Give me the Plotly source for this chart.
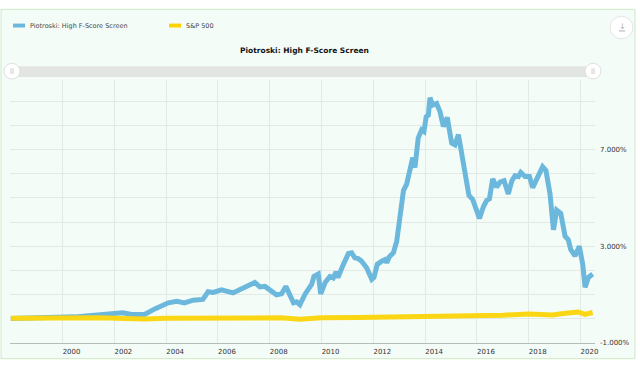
import plotly.graph_objects as go

# ---------------- data ----------------
pio_dates = ["1998-01-01", "1998-07-01", "1999-01-01", "1999-07-01", "2000-01-01", "2000-07-01",
             "2001-01-01", "2001-07-01", "2002-05-01", "2002-09-01", "2003-03-01", "2003-08-01",
             "2004-02-01", "2004-06-01", "2004-09-15", "2005-01-15", "2005-06-01", "2005-08-15",
             "2005-10-25", "2006-02-20", "2006-05-01", "2006-08-01", "2006-11-01", "2007-02-10",
             "2007-06-05", "2007-08-15", "2007-10-25", "2008-04-05", "2008-06-15", "2008-08-15",
             "2008-12-01", "2009-01-15", "2009-03-01", "2009-05-15", "2009-08-15", "2009-09-15",
             "2009-11-15", "2009-12-20", "2010-02-20", "2010-04-28", "2010-06-15", "2010-07-25",
             "2010-08-20", "2010-11-05", "2011-01-15", "2011-03-01", "2011-04-15", "2011-06-01",
             "2011-07-20", "2011-09-28", "2011-12-10", "2012-01-10", "2012-02-25", "2012-04-28",
             "2012-06-15", "2012-07-08", "2012-08-15", "2012-10-10", "2012-11-25", "2013-01-01",
             "2013-03-01", "2013-04-15", "2013-06-01", "2013-07-10", "2013-08-10", "2013-09-25",
             "2013-11-12", "2013-12-15", "2014-01-15", "2014-02-15", "2014-03-10", "2014-04-15",
             "2014-06-12", "2014-07-30", "2014-09-15", "2014-11-08", "2015-01-10", "2015-02-25",
             "2015-04-15", "2015-05-30", "2015-07-15", "2015-09-10", "2015-11-01", "2016-01-01",
             "2016-02-05", "2016-04-01", "2016-05-18", "2016-06-25", "2016-08-10", "2016-10-05",
             "2016-11-22", "2017-01-18", "2017-03-18", "2017-05-08", "2017-06-22", "2017-08-08",
             "2017-09-10", "2017-11-10", "2018-01-10", "2018-02-25", "2018-05-01", "2018-07-15",
             "2018-09-01", "2018-10-28", "2018-12-15", "2019-01-30", "2019-03-28", "2019-05-28",
             "2019-07-12", "2019-08-15", "2019-10-15", "2019-12-15", "2020-02-01", "2020-03-05",
             "2020-04-20", "2020-06-20"]
pio_values = [0.01, 0.02, 0.03, 0.05, 0.06, 0.08,
              0.13, 0.18, 0.25, 0.18, 0.18, 0.42,
              0.66, 0.72, 0.66, 0.77, 0.80, 1.12,
              1.09, 1.20, 1.15, 1.07, 1.20, 1.34,
              1.50, 1.32, 1.34, 0.99, 1.03, 1.34,
              0.66, 0.70, 0.58, 1.03, 1.43, 1.75,
              1.85, 1.03, 1.50, 1.75, 1.69, 1.94,
              1.71, 2.25, 2.70, 2.73, 2.52, 2.49,
              2.38, 2.11, 1.63, 1.71, 2.25, 2.38,
              2.45, 2.32, 2.57, 2.73, 3.20, 4.00,
              5.30, 5.57, 6.12, 6.66, 6.25, 7.47,
              7.81, 7.74, 8.35, 8.42, 9.14, 8.83,
              8.90, 8.55, 7.95, 8.32, 7.26, 7.19,
              7.61, 6.86, 6.05, 5.10, 4.94, 4.49,
              4.15, 4.63, 4.90, 4.96, 5.78, 5.44,
              5.65, 5.71, 5.16, 5.71, 5.92, 5.88,
              6.05, 5.88, 5.88, 5.42, 5.78, 6.28,
              6.12, 5.16, 3.68, 4.49, 4.36, 3.41,
              3.27, 2.87, 2.60, 3.00, 2.25, 1.30,
              1.71, 1.85]

sp_dates = ["1998-01-01", "1999-01-01", "2000-01-01", "2000-09-01", "2001-06-01", "2002-06-01",
            "2003-03-01", "2004-01-01", "2005-01-01", "2006-01-01", "2007-06-01", "2008-06-01",
            "2009-03-01", "2010-01-01", "2011-06-01", "2012-06-01", "2013-06-01", "2014-06-01",
            "2016-01-01", "2017-01-01", "2018-01-01", "2018-12-01", "2019-06-01", "2019-12-01",
            "2020-03-01", "2020-06-20"]
sp_values = [0.02, 0.04, 0.06, 0.07, 0.04, 0.01,
             -0.01, 0.02, 0.03, 0.05, 0.07, 0.04,
             -0.02, 0.04, 0.05, 0.06, 0.08, 0.10,
             0.11, 0.15, 0.20, 0.16, 0.23, 0.28,
             0.18, 0.26]

series_names = ["Piotroski: High F-Score Screen", "S&P 500"]
chart_title = "Piotroski: High F-Score Screen"
x_tick_years = list(range(2000, 2021, 2))
y_grid_values = list(range(-1, 10))
y_labeled = [-1, 3, 7]

BLUE = "#6cb8dd"
YELLOW = "#fad614"

# ---------------- layout helpers (pixel -> paper) ----------------
W, H = 640, 366
PL, PR, PT, PB = 10, 595, 80, 348


def px(X):
    return (X - PL) / (PR - PL)


def py(Y):
    return (PB - Y) / (PB - PT)


fig = go.Figure()
fig.add_trace(go.Scatter(x=pio_dates, y=pio_values, mode="lines", name=series_names[0],
                         line=dict(color=BLUE, width=5), showlegend=False))
fig.add_trace(go.Scatter(x=sp_dates, y=sp_values, mode="lines", name=series_names[1],
                         line=dict(color=YELLOW, width=5), showlegend=False))

FONT = "DejaVu Sans"

shapes = []
# outer frame
shapes.append(dict(type="rect", xref="paper", yref="paper", x0=px(1), x1=px(635), y0=py(364), y1=py(8),
                   fillcolor="#f4fcf8", line=dict(color="#cde8c6", width=1), layer="below"))
# scrollbar
shapes.append(dict(type="rect", xref="paper", yref="paper", x0=px(10), x1=px(595), y0=py(77), y1=py(66),
                   fillcolor="#e3e5e3", line=dict(width=0), layer="above"))
for cx in (12, 593):
    shapes.append(dict(type="circle", xref="paper", yref="paper", x0=px(cx - 8), x1=px(cx + 8),
                       y0=py(71 + 8), y1=py(71 - 8), fillcolor="#ffffff",
                       line=dict(color="#e0e0e0", width=1), layer="above"))
    for dx in (-1, 1):
        shapes.append(dict(type="line", xref="paper", yref="paper", x0=px(cx + dx), x1=px(cx + dx),
                           y0=py(74), y1=py(68), line=dict(color="#cfcfcf", width=1), layer="above"))
# download button
shapes.append(dict(type="circle", xref="paper", yref="paper", x0=px(610), x1=px(633),
                   y0=py(38), y1=py(15), fillcolor="#ffffff", line=dict(color="#e4e4e4", width=1)))
shapes.append(dict(type="line", xref="paper", yref="paper", x0=px(619), x1=px(625), y0=py(30), y1=py(30),
                   line=dict(color="#b0b0b0", width=1)))
# legend swatches
shapes.append(dict(type="rect", xref="paper", yref="paper", x0=px(13), x1=px(25), y0=py(26.5), y1=py(22.5),
                   fillcolor=BLUE, line=dict(width=0)))
shapes.append(dict(type="rect", xref="paper", yref="paper", x0=px(169), x1=px(181), y0=py(26.5), y1=py(22.5),
                   fillcolor="#ffd200", line=dict(width=0)))

annotations = [
    dict(text=series_names[0], xref="paper", yref="paper", x=px(28), y=py(24.5), xanchor="left",
         yanchor="middle", showarrow=False, font=dict(family=FONT, size=6.5, color="#444444")),
    dict(text=series_names[1], xref="paper", yref="paper", x=px(184), y=py(24.5), xanchor="left",
         yanchor="middle", showarrow=False, font=dict(family=FONT, size=6.5, color="#444444")),
    dict(text="<b>" + chart_title + "</b>", xref="paper", yref="paper", x=px(304), y=py(50),
         xanchor="center", yanchor="middle", showarrow=False,
         font=dict(family=FONT, size=7.5, color="#111111")),
    dict(text="↓", xref="paper", yref="paper", x=px(622), y=py(25.5), xanchor="center",
         yanchor="middle", showarrow=False, font=dict(family=FONT, size=8, color="#b0b0b0")),
]

fig.update_layout(
    width=W, height=H,
    margin=dict(l=PL, r=W - PR, t=PT, b=H - PB, pad=0),
    paper_bgcolor="#ffffff",
    plot_bgcolor="rgba(0,0,0,0)",
    showlegend=False,
    shapes=shapes,
    annotations=annotations,
    font=dict(family=FONT, size=7, color="#333333"),
    xaxis=dict(
        type="date",
        range=["1997-12-21", "2020-07-23"],
        tickvals=[f"{y}-01-01" for y in x_tick_years],
        ticktext=[str(y) for y in x_tick_years],
        ticklabelshift=9,
        ticklabelstandoff=2,
        showgrid=True, gridcolor="#e3e9e5", gridwidth=1,
        showline=True, linecolor="#b8bcb9", linewidth=1,
        ticks="", zeroline=False,
        tickfont=dict(family=FONT, size=7, color="#333333"),
    ),
    yaxis=dict(
        range=[-1, 9.87],
        side="right",
        tickvals=y_grid_values,
        ticktext=[f"{v:.3f}%" if v in y_labeled else "" for v in y_grid_values],
        showgrid=True, gridcolor="#e3e9e5", gridwidth=1,
        zeroline=False, showline=False, ticks="",
        ticklabelstandoff=4,
        tickfont=dict(family=FONT, size=7, color="#333333"),
    ),
)

fig.write_html("out.html", config={"displayModeBar": False},
               post_script="document.body.style.margin='0';document.body.style.overflow='hidden';")
